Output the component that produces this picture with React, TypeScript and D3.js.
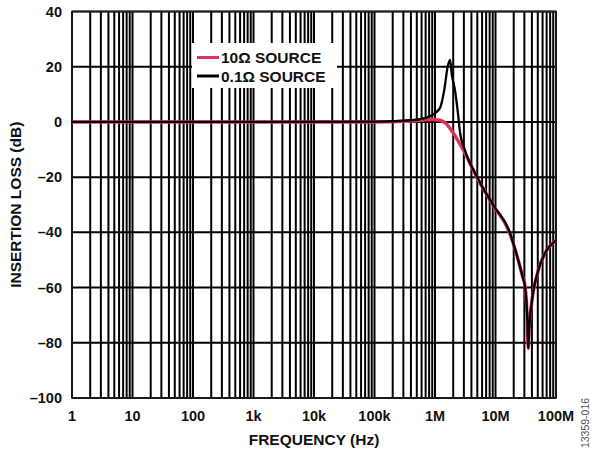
import React from "react";
import * as d3 from "d3";

const redFreq = [1, 1e5, 3e5, 6e5, 9e5, 1.2e6, 1.5e6, 2e6, 2.9e6, 4.9e6, 9e6, 1.7e7, 2.2e7, 2.8e7, 3.1e7, 3.36e7, 3.48e7, 3.6e7, 3.96e7, 5.1e7, 6.6e7, 1e8];
const redVal = [0, 0, 0.2, 0.6, 0.9, 0.6, -0.5, -4, -10, -20, -30, -40, -47.5, -56, -60, -72, -82, -75, -65.6, -53.7, -47.5, -43];

const blackFreq = [1, 1e5, 4.4e5, 8.3e5, 1.2e6, 1.42e6, 1.62e6, 1.77e6, 1.9e6, 2.14e6, 2.4e6, 2.6e6, 3.1e6, 5.0e6, 9.1e6, 1.72e7, 2.2e7, 2.8e7, 3.1e7, 3.36e7, 3.48e7, 3.6e7, 3.96e7, 5.1e7, 6.6e7, 1e8];
const blackVal = [0, 0.1, 0.7, 2.1, 4.9, 11.5, 20, 22.5, 17, 11.5, 3, -4, -10, -20, -30, -40, -47.5, -56, -60, -72, -82, -75, -65.6, -53.7, -47.5, -43];

const xTickVals = [1, 10, 100, 1e3, 1e4, 1e5, 1e6, 1e7, 1e8];
const xTickLabels = ["1", "10", "100", "1k", "10k", "100k", "1M", "10M", "100M"];
const yTickVals = [40, 20, 0, -20, -40, -60, -80, -100];
const yTickLabels = ["40", "20", "0", "–20", "–40", "–60", "–80", "–100"];

const legendLabels = ["10Ω SOURCE", "0.1Ω SOURCE"];
const RED = "#e0335a";

export default function App() {
  const W = 597, H = 450;
  const L = 72, R = 556, T = 11.5, B = 398;
  const x = d3.scaleLog().domain([1, 1e8]).range([L, R]);
  const y = d3.scaleLinear().domain([-100, 40]).range([B, T]);

  const minor: number[] = [];
  for (let d = 0; d < 8; d++) for (let k = 1; k <= 9; k++) minor.push(k * Math.pow(10, d));
  minor.push(1e8);

  const redPath = d3.line<number>().x(i => x(redFreq[i])).y(i => y(redVal[i])).curve(d3.curveMonotoneX)(redFreq.map((_, i) => i)) || "";
  const blackPath = d3.line<number>().x(i => x(blackFreq[i])).y(i => y(blackVal[i])).curve(d3.curveMonotoneX)(blackFreq.map((_, i) => i)) || "";

  const font = "'Liberation Sans', Arial, sans-serif";

  return (
    <div>
      <style>{"body{margin:0}"}</style>
      <svg width={W} height={H} style={{ display: "block", background: "#fff" }}>
        <rect x={0} y={0} width={W} height={H} fill="#fff" />
        {minor.map((f, i) => (
          <line key={"v" + i} x1={x(f)} x2={x(f)} y1={T} y2={B} stroke="#000" strokeWidth={2} />
        ))}
        {yTickVals.map((v, i) => (
          <line key={"h" + i} x1={L} x2={R} y1={y(v)} y2={y(v)} stroke="#000" strokeWidth={2} />
        ))}
        <rect x={L} y={T} width={R - L} height={B - T} fill="none" stroke="#222" strokeWidth={1.5} />
        <rect x={192} y={43} width={145} height={45} fill="#fff" />
        <path d={redPath} fill="none" stroke={RED} strokeWidth={3.4} strokeLinejoin="round" />
        <path d={blackPath} fill="none" stroke="#000" strokeWidth={2.3} strokeLinejoin="round" />
        <line x1={197} x2={219} y1={57.5} y2={57.5} stroke={RED} strokeWidth={3} />
        <line x1={197} x2={219} y1={76} y2={76} stroke="#000" strokeWidth={3} />
        <text x={221} y={63} fontFamily={font} fontWeight="bold" fontSize={15.5} fill="#111">{legendLabels[0]}</text>
        <text x={221} y={81.5} fontFamily={font} fontWeight="bold" fontSize={15.5} fill="#111">{legendLabels[1]}</text>
        {yTickVals.map((v, i) => (
          <text key={"yl" + i} x={62} y={y(v) + 5} textAnchor="end" fontFamily={font} fontWeight="bold" fontSize={14.5} fill="#111">{yTickLabels[i]}</text>
        ))}
        {xTickVals.map((v, i) => (
          <text key={"xl" + i} x={x(v)} y={421} textAnchor="middle" fontFamily={font} fontWeight="bold" fontSize={14.5} fill="#111">{xTickLabels[i]}</text>
        ))}
        <text x={(L + R) / 2} y={445} textAnchor="middle" fontFamily={font} fontWeight="bold" fontSize={15.5} fill="#111">FREQUENCY (Hz)</text>
        <text transform={`translate(21,${(T + B) / 2}) rotate(-90)`} textAnchor="middle" fontFamily={font} fontWeight="bold" fontSize={15.5} fill="#111">INSERTION LOSS (dB)</text>
        <text transform={`translate(589,423) rotate(-90)`} textAnchor="middle" fontFamily={font} fontSize={10.5} fill="#555">13359-016</text>
      </svg>
    </div>
  );
}
